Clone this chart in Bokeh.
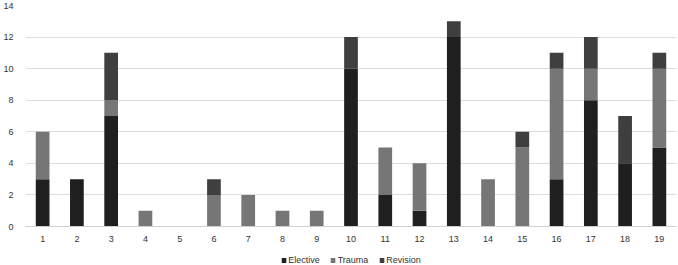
from bokeh.plotting import figure
from bokeh.layouts import column
from bokeh.models import FactorRange, Range1d, Legend, SingleIntervalTicker
from bokeh.embed import file_html
from bokeh.resources import INLINE

# Cases per category, split by type
categories = [str(i) for i in range(1, 20)]
elective = [3, 3, 7, 0, 0, 0, 0, 0, 0, 10, 2, 1, 12, 0, 0, 3, 8, 4, 5]
trauma = [3, 0, 1, 1, 0, 2, 2, 1, 1, 0, 3, 3, 0, 3, 5, 7, 2, 0, 5]
revision = [0, 0, 3, 0, 0, 1, 0, 0, 0, 2, 0, 0, 1, 0, 1, 1, 2, 3, 1]
series = ["Elective", "Trauma", "Revision"]
colors = ["#1f1f1f", "#767676", "#3f3f3f"]

data = dict(cat=categories, Elective=elective, Trauma=trauma, Revision=revision)
font = "Liberation Sans"

p = figure(
    width=678, height=245,
    x_range=FactorRange(*categories, range_padding=0),
    y_range=Range1d(0, 14),
    output_backend="svg", toolbar_location=None,
    min_border_left=20, min_border_right=2, min_border_top=5, min_border_bottom=19,
)
p.outline_line_color = None
p.background_fill_color = "white"
p.border_fill_color = "white"

p.vbar_stack(series, x="cat", width=0.4, source=data, color=colors, line_color=None)

p.yaxis.ticker = SingleIntervalTicker(interval=2)
p.yaxis.axis_line_color = None
p.yaxis.major_tick_line_color = None
p.yaxis.minor_tick_line_color = None
p.yaxis.major_label_text_font = font
p.yaxis.major_label_text_font_size = "9px"
p.yaxis.major_label_text_color = "#333333"
p.yaxis.major_label_standoff = 6

p.xaxis.axis_line_color = "#d0d0d0"
p.xaxis.major_tick_line_color = None
p.xaxis.minor_tick_line_color = None
p.xaxis.major_label_text_font = font
p.xaxis.major_label_text_font_size = "9px"
p.xaxis.major_label_text_color = "#333333"
p.xaxis.major_label_standoff = 3

p.xgrid.grid_line_color = None
p.ygrid.grid_line_color = "#dcdcdc"
p.ygrid.grid_line_width = 1

# Separate strip that only carries the horizontal legend; its key bars have zero height
leg = figure(
    width=678, height=20,
    x_range=FactorRange(*categories), y_range=Range1d(0, 1),
    output_backend="svg", toolbar_location=None,
    min_border=0,
)
leg.axis.visible = False
leg.grid.visible = False
leg.outline_line_color = None
zeros = [0] * len(categories)
keys = dict(cat=categories, Elective=zeros, Trauma=zeros, Revision=zeros)
leg_renderers = leg.vbar_stack(series, x="cat", width=0.4, source=keys,
                               color=colors, line_color=None)
legend = Legend(
    items=[(name, [r]) for name, r in zip(series, leg_renderers)],
    orientation="horizontal", location="bottom_center",
    label_text_font=font, label_text_font_size="9px", label_text_color="#333333",
    glyph_width=6, glyph_height=6, label_standoff=2, spacing=10,
    padding=0, margin=0, border_line_color=None, background_fill_alpha=0,
    label_height=10,
)
leg.add_layout(legend, "center")

layout = column(p, leg, spacing=0)
open("out.html", "w").write(file_html(layout, INLINE))
